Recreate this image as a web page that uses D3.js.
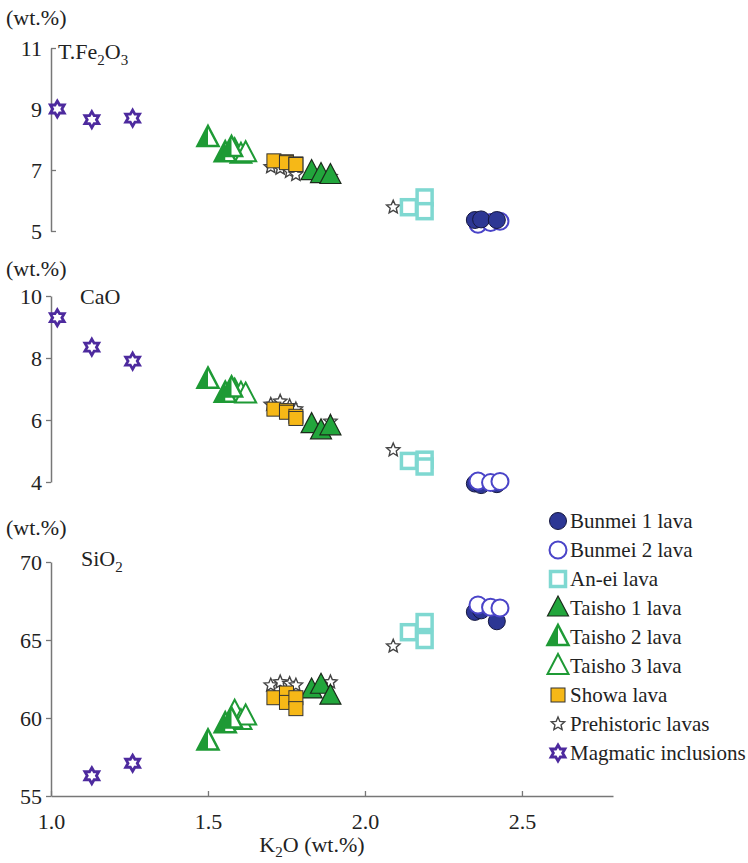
<!DOCTYPE html>
<html>
<head>
<meta charset="utf-8">
<script src="https://cdn.jsdelivr.net/npm/d3@7"></script>
<style>
  body { margin: 0; background: #fff; }
</style>
</head>
<body>
<script>
// K2O vs T.Fe2O3 / CaO / SiO2 (wt.%)
var bunmei1K2O = [2.35, 2.37, 2.42]
var bunmei1Fe = [5.36, 5.38, 5.36]
var bunmei1Ca = [3.95, 3.9, 3.93]
var bunmei1Si = [66.8, 66.9, 66.2]

var bunmei2K2O = [2.36, 2.40, 2.43]
var bunmei2Fe = [5.22, 5.28, 5.32]
var bunmei2Ca = [4.03, 3.98, 4.02]
var bunmei2Si = [67.25, 67.1, 67.05]

var aneiK2O = [2.14, 2.19, 2.19]
var aneiFe = [5.78, 6.1, 5.65]
var aneiCa = [4.68, 4.72, 4.5]
var aneiSi = [65.5, 66.15, 65.0]

var taisho1K2O = [1.83, 1.86, 1.89]
var taisho1Fe = [6.95, 6.85, 6.82]
var taisho1Ca = [5.85, 5.65, 5.78]
var taisho1Si = [61.8, 62.1, 61.4]

var taisho2K2O = [1.50, 1.555, 1.575]
var taisho2Fe = [8.05, 7.55, 7.72]
var taisho2Ca = [7.3, 6.85, 7.02]
var taisho2Si = [58.5, 59.6, 59.9]

var taisho3K2O = [1.585, 1.605, 1.62]
var taisho3Fe = [7.65, 7.5, 7.55]
var taisho3Ca = [6.95, 6.85, 6.82]
var taisho3Si = [60.4, 59.8, 60.1]

var showaK2O = [1.71, 1.75, 1.75, 1.78, 1.78]
var showaFe = [7.3, 7.27, 7.24, 7.2, 7.18]
var showaCa = [6.35, 6.3, 6.25, 6.12, 6.05]
var showaSi = [61.3, 61.6, 61.0, 61.3, 60.6]

var prehistK2O = [1.70, 1.73, 1.76, 1.78, 1.89, 2.09]
var prehistFe = [7.1, 7.05, 6.95, 6.85, 6.78, 5.78]
var prehistCa = [6.5, 6.6, 6.45, 6.35, 5.95, 5.03]
var prehistSi = [62.1, 62.3, 62.2, 62.1, 62.3, 64.6]

var magmaK2O = [1.02, 1.13, 1.26]
var magmaFe = [9.0, 8.65, 8.7]
var magmaCa = [9.3, 8.35, 7.9]
var magmaSi = [null, 56.3, 57.1]

var xTicks = [1.0, 1.5, 2.0, 2.5]
var feTicks = [5, 7, 9, 11]
var caTicks = [4, 6, 8, 10]
var siTicks = [55, 60, 65, 70]

var series = [
    {name: "Bunmei 1 lava", shape: "circleFilled", k: bunmei1K2O, fe: bunmei1Fe, ca: bunmei1Ca, si: bunmei1Si},
    {name: "Bunmei 2 lava", shape: "circleOpen", k: bunmei2K2O, fe: bunmei2Fe, ca: bunmei2Ca, si: bunmei2Si},
    {name: "An-ei lava", shape: "squareOpen", k: aneiK2O, fe: aneiFe, ca: aneiCa, si: aneiSi},
    {name: "Taisho 1 lava", shape: "triFilled", k: taisho1K2O, fe: taisho1Fe, ca: taisho1Ca, si: taisho1Si},
    {name: "Taisho 2 lava", shape: "triHalf", k: taisho2K2O, fe: taisho2Fe, ca: taisho2Ca, si: taisho2Si},
    {name: "Taisho 3 lava", shape: "triOpen", k: taisho3K2O, fe: taisho3Fe, ca: taisho3Ca, si: taisho3Si},
    {name: "Showa lava", shape: "squareFilled", k: showaK2O, fe: showaFe, ca: showaCa, si: showaSi},
    {name: "Prehistoric lavas", shape: "star5", k: prehistK2O, fe: prehistFe, ca: prehistCa, si: prehistSi},
    {name: "Magmatic inclusions", shape: "hexagram", k: magmaK2O, fe: magmaFe, ca: magmaCa, si: magmaSi}
]
// order the marks are painted in (top panel has filled circles over open ones)
var orderTop = ["star5", "squareOpen", "circleOpen", "circleFilled", "triOpen", "triHalf", "triFilled", "squareFilled", "hexagram"]
var orderLow = ["star5", "squareOpen", "circleFilled", "circleOpen", "triOpen", "triHalf", "triFilled", "squareFilled", "hexagram"]

var serifFont = "'Liberation Serif'"

var svg = d3.select("body").append("svg")
    .attr("width", 748)
    .attr("height", 863)

var axisCol = "#777"
var x = d3.scaleLinear().domain([1.0, 2.79]).range([51, 613])

var panels = [
    {key: "fe", y: d3.scaleLinear().domain([5, 11]).range([231, 48]), ticks: feTicks, inward: true, wt: 25, order: orderTop},
    {key: "ca", y: d3.scaleLinear().domain([4, 10]).range([482, 296]), ticks: caTicks, inward: false, wt: 276, order: orderLow},
    {key: "si", y: d3.scaleLinear().domain([55, 70]).range([796, 562]), ticks: siTicks, inward: false, wt: 535, order: orderLow}
]

function label(sel, size) {
    return sel.style("font-family", serifFont).style("font-size", size + "px").style("fill", "#222")
}

function triPath(w, h) {
    return "M0," + (-h * 0.6) + "L" + (w / 2) + "," + (h * 0.4) + "L" + (-w / 2) + "," + (h * 0.4) + "Z"
}
function starPath(n, ro, ri) {
    var pts = []
    for (var i = 0; i < n * 2; i++) {
        var r = i % 2 == 0 ? ro : ri
        var a = -Math.PI / 2 + i * Math.PI / n
        pts.push([r * Math.cos(a), r * Math.sin(a)])
    }
    return "M" + pts.map(p => p[0].toFixed(2) + "," + p[1].toFixed(2)).join("L") + "Z"
}

function drawShape(g, shape) {
    if (shape == "circleFilled") {
        g.append("circle").attr("r", 8.5).attr("fill", "#2d3794").attr("stroke", "#15173f").attr("stroke-width", 1)
    } else if (shape == "circleOpen") {
        g.append("circle").attr("r", 8.5).attr("fill", "#fff").attr("stroke", "#4a44c8").attr("stroke-width", 2)
    } else if (shape == "squareOpen") {
        g.append("rect").attr("x", -7.5).attr("y", -7.5).attr("width", 15).attr("height", 15)
            .attr("fill", "#fff").attr("stroke", "#7fd8d1").attr("stroke-width", 3.5)
    } else if (shape == "triFilled") {
        g.append("path").attr("d", triPath(21, 20)).attr("fill", "#22a63c").attr("stroke", "#1b2b1b").attr("stroke-width", 1.2)
    } else if (shape == "triHalf") {
        g.append("path").attr("d", triPath(21, 20)).attr("fill", "#fff").attr("stroke", "#1e9a35").attr("stroke-width", 2.5)
        g.append("path").attr("d", "M0,-12L0,8L-10.5,8Z").attr("fill", "#1e9a35")
    } else if (shape == "triOpen") {
        g.append("path").attr("d", triPath(21, 20)).attr("fill", "#fff").attr("stroke", "#1e9a35").attr("stroke-width", 2)
    } else if (shape == "squareFilled") {
        g.append("rect").attr("x", -7).attr("y", -7).attr("width", 14).attr("height", 14)
            .attr("fill", "#f6b817").attr("stroke", "#333").attr("stroke-width", 1)
    } else if (shape == "star5") {
        g.append("path").attr("d", starPath(5, 7, 3.2)).attr("fill", "#fff").attr("stroke", "#444").attr("stroke-width", 1.4)
    } else if (shape == "hexagram") {
        g.append("path").attr("d", starPath(6, 8, 4.6)).attr("fill", "#fff").attr("stroke", "#4d2a9e").attr("stroke-width", 2.8)
    }
}

panels.forEach(function (p) {
    var ax = d3.axisLeft(p.y)
        .tickValues(p.ticks)
        .tickFormat(d3.format("d"))
        .tickSizeOuter(0)
        .tickSizeInner(p.inward ? -5 : 5)
        .tickPadding(p.inward ? 9 : 4)
    var ga = svg.append("g").attr("transform", "translate(51,0)").call(ax)
    ga.attr("font-family", null).attr("font-size", null)
    ga.select(".domain").attr("stroke", axisCol).attr("stroke-width", 1.5)
    ga.selectAll(".tick line").attr("stroke", axisCol).attr("stroke-width", 1.3)
    label(ga.selectAll(".tick text"), 22)

    label(svg.append("text").attr("x", 6).attr("y", p.wt), 22).text("(wt.%)")

    // points
    var ordered = p.order.map(s => series.find(d => d.shape == s))
    ordered.forEach(function (s) {
        s.k.forEach(function (kv, i) {
            var v = s[p.key][i]
            if (v == null) return
            var g = svg.append("g").attr("transform", "translate(" + x(kv) + "," + p.y(v) + ")")
            drawShape(g, s.shape)
        })
    })
})

// panel labels
var lab1 = label(svg.append("text").attr("x", 58).attr("y", 59), 22)
lab1.append("tspan").text("T.Fe")
lab1.append("tspan").style("font-size", "15px").attr("dy", 6).text("2")
lab1.append("tspan").attr("dy", -6).text("O")
lab1.append("tspan").style("font-size", "15px").attr("dy", 6).text("3")

label(svg.append("text").attr("x", 80).attr("y", 304), 22).text("CaO")

var lab3 = label(svg.append("text").attr("x", 81).attr("y", 566), 22)
lab3.append("tspan").text("SiO")
lab3.append("tspan").style("font-size", "15px").attr("dy", 6).text("2")

// x axis
var xa = d3.axisBottom(x)
    .tickValues(xTicks)
    .tickFormat(d3.format(".1f"))
    .tickSizeOuter(0)
    .tickSizeInner(-5)
    .tickPadding(17)
var gx = svg.append("g").attr("transform", "translate(0,796)").call(xa)
gx.attr("font-family", null).attr("font-size", null)
gx.select(".domain").attr("stroke", axisCol).attr("stroke-width", 1.5)
gx.selectAll(".tick line").attr("stroke", axisCol).attr("stroke-width", 1.3)
label(gx.selectAll(".tick text"), 22)

var xl = label(svg.append("text").attr("x", 312).attr("y", 852).attr("text-anchor", "middle"), 22)
xl.append("tspan").text("K")
xl.append("tspan").style("font-size", "15px").attr("dy", 5).text("2")
xl.append("tspan").attr("dy", -5).text("O (wt.%)")

// legend
var legend = svg.append("g").attr("transform", "translate(558,521)")
series.forEach(function (s, i) {
    var row = legend.append("g").attr("transform", "translate(0," + (i * 29) + ")")
    drawShape(row, s.shape)
    label(row.append("text").attr("x", 12).attr("y", 7), 21).text(s.name)
})
</script>
</body>
</html>
